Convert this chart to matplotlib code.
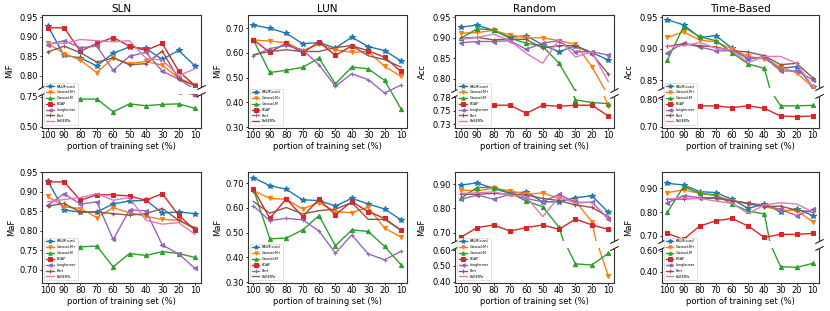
import matplotlib
matplotlib.use("Agg")
import matplotlib.pyplot as plt
from matplotlib.ticker import FixedLocator, FixedFormatter, FormatStrFormatter

# ---------------- data ----------------
portions = [100, 90, 80, 70, 60, 50, 40, 30, 20, 10]

SLN_MIF = {
    "KALM(ours)": [0.928, 0.852, 0.846, 0.825, 0.858, 0.874, 0.870, 0.842, 0.865, 0.825],
    "GreaseLM+":  [0.883, 0.857, 0.840, 0.808, 0.846, 0.831, 0.837, 0.827, 0.794, 0.777],
    "GreaseLM":   [0.728, 0.750, 0.730, 0.730, 0.625, 0.690, 0.675, 0.686, 0.690, 0.653],
    "KGAP":       [0.923, 0.923, 0.863, 0.883, 0.898, 0.876, 0.865, 0.883, 0.812, 0.774],
    "Longformer": [0.880, 0.890, 0.872, 0.876, 0.814, 0.850, 0.860, 0.812, 0.791, 0.765],
    "Bert":       [0.861, 0.876, 0.859, 0.835, 0.846, 0.828, 0.831, 0.863, 0.792, 0.774],
    "RoBERTa":    [0.883, 0.883, 0.893, 0.890, 0.887, 0.890, 0.845, 0.840, 0.800, 0.818],
}
LUN_MIF = {
    "KALM(ours)": [0.713, 0.700, 0.680, 0.638, 0.642, 0.620, 0.664, 0.626, 0.610, 0.568],
    "GreaseLM+":  [0.653, 0.648, 0.642, 0.610, 0.636, 0.613, 0.603, 0.606, 0.546, 0.505],
    "GreaseLM":   [0.653, 0.521, 0.530, 0.542, 0.579, 0.475, 0.543, 0.536, 0.489, 0.374],
    "KGAP":       [0.653, 0.603, 0.640, 0.600, 0.645, 0.590, 0.629, 0.609, 0.583, 0.525],
    "Bert":       [0.589, 0.618, 0.630, 0.613, 0.552, 0.465, 0.516, 0.492, 0.438, 0.470],
    "RoBERTa":    [0.593, 0.606, 0.613, 0.606, 0.606, 0.622, 0.630, 0.589, 0.573, 0.543],
}
RANDOM_ACC = {
    "KALM(ours)": [0.926, 0.931, 0.918, 0.901, 0.905, 0.883, 0.866, 0.881, 0.864, 0.846],
    "GreaseLM+":  [0.911, 0.913, 0.918, 0.907, 0.900, 0.900, 0.893, 0.884, 0.830, 0.759],
    "GreaseLM":   [0.899, 0.922, 0.919, 0.899, 0.887, 0.879, 0.838, 0.770, 0.765, 0.763],
    "KGAP":       [0.782, 0.745, 0.760, 0.760, 0.745, 0.760, 0.758, 0.760, 0.760, 0.740],
    "Longformer": [0.888, 0.891, 0.891, 0.893, 0.872, 0.887, 0.893, 0.866, 0.866, 0.858],
    "Bert":       [0.899, 0.901, 0.895, 0.897, 0.896, 0.875, 0.881, 0.881, 0.861, 0.812],
    "RoBERTa":    [0.896, 0.901, 0.909, 0.893, 0.862, 0.838, 0.896, 0.853, 0.866, 0.793],
}
TIME_ACC = {
    "KALM(ours)": [0.946, 0.938, 0.918, 0.921, 0.901, 0.884, 0.887, 0.869, 0.872, 0.840],
    "GreaseLM+":  [0.918, 0.927, 0.914, 0.911, 0.900, 0.888, 0.884, 0.871, 0.862, 0.839],
    "GreaseLM":   [0.882, 0.935, 0.919, 0.913, 0.894, 0.876, 0.869, 0.776, 0.776, 0.778],
    "KGAP":       [0.776, 0.759, 0.776, 0.776, 0.770, 0.776, 0.767, 0.739, 0.737, 0.739],
    "Longformer": [0.894, 0.909, 0.903, 0.897, 0.897, 0.885, 0.887, 0.865, 0.865, 0.851],
    "Bert":       [0.904, 0.908, 0.905, 0.903, 0.897, 0.895, 0.889, 0.875, 0.877, 0.854],
    "RoBERTa":    [0.904, 0.905, 0.910, 0.901, 0.898, 0.878, 0.888, 0.888, 0.877, 0.840],
}
SLN_MAF = {
    "KALM(ours)": [0.927, 0.853, 0.848, 0.848, 0.869, 0.876, 0.878, 0.846, 0.848, 0.844],
    "GreaseLM+":  [0.888, 0.861, 0.857, 0.834, 0.859, 0.846, 0.837, 0.829, 0.827, 0.804],
    "GreaseLM":   [0.753, 0.765, 0.759, 0.761, 0.708, 0.742, 0.737, 0.747, 0.742, 0.732],
    "KGAP":       [0.925, 0.925, 0.878, 0.892, 0.892, 0.889, 0.878, 0.895, 0.840, 0.802],
    "Longformer": [0.865, 0.895, 0.868, 0.874, 0.778, 0.853, 0.851, 0.764, 0.741, 0.704],
    "Bert":       [0.863, 0.870, 0.848, 0.848, 0.844, 0.840, 0.844, 0.857, 0.827, 0.808],
    "RoBERTa":    [0.874, 0.880, 0.885, 0.895, 0.878, 0.885, 0.827, 0.817, 0.821, 0.791],
}
LUN_MAF = {
    "KALM(ours)": [0.723, 0.690, 0.676, 0.633, 0.630, 0.608, 0.639, 0.616, 0.596, 0.552],
    "GreaseLM+":  [0.670, 0.639, 0.635, 0.596, 0.622, 0.585, 0.581, 0.603, 0.518, 0.482],
    "GreaseLM":   [0.676, 0.475, 0.478, 0.511, 0.569, 0.447, 0.511, 0.505, 0.444, 0.370],
    "KGAP":       [0.676, 0.558, 0.637, 0.565, 0.635, 0.572, 0.626, 0.585, 0.558, 0.509],
    "Bert":       [0.608, 0.549, 0.558, 0.552, 0.507, 0.417, 0.491, 0.414, 0.390, 0.424],
    "RoBERTa":    [0.626, 0.579, 0.602, 0.576, 0.589, 0.595, 0.622, 0.554, 0.554, 0.511],
}
RANDOM_MAF = {
    "KALM(ours)": [0.896, 0.905, 0.882, 0.862, 0.868, 0.827, 0.827, 0.844, 0.852, 0.784],
    "GreaseLM+":  [0.875, 0.873, 0.882, 0.873, 0.858, 0.864, 0.841, 0.830, 0.745, 0.436],
    "GreaseLM":   [0.841, 0.886, 0.886, 0.864, 0.830, 0.807, 0.722, 0.512, 0.505, 0.579],
    "KGAP":       [0.681, 0.721, 0.732, 0.707, 0.721, 0.732, 0.714, 0.756, 0.732, 0.714],
    "Longformer": [0.837, 0.855, 0.838, 0.858, 0.841, 0.827, 0.858, 0.825, 0.825, 0.755],
    "Bert":       [0.859, 0.858, 0.862, 0.858, 0.855, 0.841, 0.832, 0.814, 0.804, 0.766],
    "RoBERTa":    [0.862, 0.864, 0.868, 0.855, 0.848, 0.766, 0.848, 0.821, 0.827, 0.759],
}
TIME_MAF = {
    "KALM(ours)": [0.921, 0.914, 0.886, 0.882, 0.854, 0.815, 0.834, 0.800, 0.813, 0.785],
    "GreaseLM+":  [0.882, 0.893, 0.879, 0.869, 0.848, 0.834, 0.823, 0.808, 0.806, 0.759],
    "GreaseLM":   [0.799, 0.907, 0.879, 0.872, 0.834, 0.804, 0.792, 0.448, 0.441, 0.479],
    "KGAP":       [0.710, 0.685, 0.741, 0.763, 0.773, 0.741, 0.693, 0.706, 0.706, 0.710],
    "Longformer": [0.839, 0.869, 0.861, 0.861, 0.848, 0.837, 0.830, 0.811, 0.785, 0.811],
    "Bert":       [0.854, 0.855, 0.858, 0.858, 0.848, 0.837, 0.823, 0.825, 0.808, 0.800],
    "RoBERTa":    [0.855, 0.858, 0.858, 0.846, 0.837, 0.794, 0.830, 0.839, 0.834, 0.800],
}

titles = ["SLN", "LUN", "Random", "Time-Based"]

# ---------------- style ----------------
MARKERS = {"KALM(ours)": "*", "GreaseLM+": "v", "GreaseLM": "^", "KGAP": "s",
           "Longformer": "<", "Bert": "+", "RoBERTa": None}
COLORS = ["#1f77b4", "#ff7f0e", "#2ca02c", "#d62728", "#9467bd", "#8c564b", "#e377c2"]

W, H = 830, 311
fig = plt.figure(figsize=(W / 100, H / 100), dpi=100)

def rect(x0, y0, x1, y1):
    return [x0 / W, 1 - y1 / H, (x1 - x0) / W, (y1 - y0) / H]

COLS = [(42, 200.7), (247.7, 406.7), (455, 614), (661.7, 818.5)]
ROWS = [(15, 127.5), (171.7, 282.5)]
XS = list(range(len(portions)))

def style_ax(ax):
    ax.tick_params(axis="both", labelsize=6, length=1.5, width=0.6, pad=1.2)
    for s in ax.spines.values():
        s.set_linewidth(0.8)
        s.set_color("#333333")
    ax.set_xlim(-0.35, len(portions) - 1 + 0.35)
    ax.set_xticks(XS)
    ax.yaxis.set_major_formatter(FormatStrFormatter("%.2f"))

def plot_series(ax, data):
    for i, (name, vals) in enumerate(data.items()):
        ax.plot(XS, vals, color=COLORS[i], marker=MARKERS[name], ms=3.0 if MARKERS[name] != "*" else 3.8,
                mew=0.8, lw=1.0, label=name)

def finish_bottom(ax, data_ax):
    ax.set_xticklabels([str(p) for p in portions])
    ax.set_xlabel("portion of training set (%)", fontsize=6, labelpad=1)
    leg = ax.legend(loc="lower left", fontsize=2.4, borderaxespad=0.7, handlelength=2.3,
                    framealpha=1, edgecolor="#cccccc", borderpad=0.5, labelspacing=0.55,
                    markerscale=0.8)
    leg.get_frame().set_linewidth(0.4)
    leg.set_zorder(20)

def breakmarks(ax_up, ax_lo):
    d = 0.5
    kw = dict(marker=[(-1, -d), (1, d)], markersize=6, linestyle="none",
              color="k", mec="k", mew=0.7, clip_on=False)
    ax_up.plot([0, 1], [0, 0], transform=ax_up.transAxes, **kw)
    ax_lo.plot([0, 1], [1, 1], transform=ax_lo.transAxes, **kw)

def single(col, row, data, ylim, yticks, ylabel, ylabx, title=None):
    x0, x1 = COLS[col]
    y0, y1 = ROWS[row]
    ax = fig.add_axes(rect(x0, y0, x1, y1))
    plot_series(ax, data)
    style_ax(ax)
    ax.set_ylim(*ylim)
    ax.set_yticks(yticks)
    finish_bottom(ax, data)
    if title:
        ax.set_title(title, fontsize=7.5, pad=2.5)
    fig.text(ylabx / W, 1 - (y0 + y1) / 2 / H, ylabel, rotation=90, ha="center", va="center", fontsize=6)

def broken(col, row, data, y_up_bot, y_lo_top, ylim_up, ylim_lo, ticks_up, ticks_lo,
           ylabel, ylabx, title=None, lo_labels=None):
    x0, x1 = COLS[col]
    y0, y1 = ROWS[row]
    ax_up = fig.add_axes(rect(x0, y0, x1, y_up_bot))
    ax_lo = fig.add_axes(rect(x0, y_lo_top, x1, y1))
    for ax in (ax_up, ax_lo):
        plot_series(ax, data)
        style_ax(ax)
    ax_up.set_ylim(*ylim_up)
    ax_lo.set_ylim(*ylim_lo)
    ax_up.set_yticks(ticks_up)
    ax_lo.set_yticks(ticks_lo)
    if lo_labels is not None:
        ax_lo.yaxis.set_major_locator(FixedLocator(ticks_lo))
        ax_lo.yaxis.set_major_formatter(FixedFormatter(lo_labels))
    ax_up.spines["bottom"].set_visible(False)
    ax_lo.spines["top"].set_visible(False)
    ax_up.tick_params(axis="x", bottom=False, labelbottom=False)
    breakmarks(ax_up, ax_lo)
    finish_bottom(ax_lo, data)
    if title:
        ax_up.set_title(title, fontsize=7.5, pad=2.5)
    fig.text(ylabx / W, 1 - (y0 + y1) / 2 / H, ylabel, rotation=90, ha="center", va="center", fontsize=6)

# top row
broken(0, 0, SLN_MIF, 87, 93.5, (0.771, 0.956), (0.495, 0.776),
       [0.80, 0.85, 0.90, 0.95], [0.50, 0.75], "MiF", 10, title=titles[0])
single(1, 0, LUN_MIF, (0.298, 0.754), [0.30, 0.40, 0.50, 0.60, 0.70], "MiF", 218, title=titles[1])
broken(2, 0, RANDOM_ACC, 89.5, 95.5, (0.774, 0.9556), (0.7187, 0.778),
       [0.80, 0.85, 0.90, 0.95], [0.725, 0.75, 0.775], "Acc", 422, title=titles[2],
       lo_labels=["0.73", "0.75", "0.78"])
broken(3, 0, TIME_ACC, 88, 95.5, (0.838, 0.9536), (0.697, 0.814),
       [0.85, 0.90, 0.95], [0.70, 0.80], "Acc", 629, title=titles[3])

# bottom row
single(0, 1, SLN_MAF, (0.668, 0.951), [0.70, 0.75, 0.80, 0.85, 0.90, 0.95], "MaF", 12)
single(1, 1, LUN_MAF, (0.298, 0.747), [0.30, 0.40, 0.50, 0.60, 0.70], "MaF", 218)
broken(2, 1, RANDOM_MAF, 240.5, 247.5, (0.668, 0.951), (0.394, 0.616),
       [0.70, 0.80, 0.90], [0.40, 0.50, 0.60], "MaF", 422)
broken(3, 1, TIME_MAF, 241, 247.5, (0.678, 0.970), (0.297, 0.630),
       [0.70, 0.80, 0.90], [0.40, 0.60], "MaF", 629)

fig.savefig("out.png", dpi=100)
